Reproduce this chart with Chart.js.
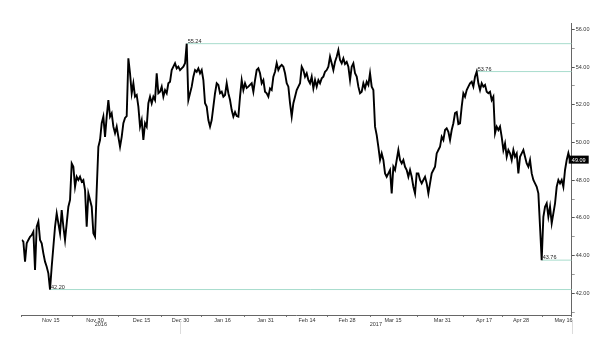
<!DOCTYPE html>
<html><head><meta charset="utf-8">
<script src="https://cdn.jsdelivr.net/npm/chart.js@4/dist/chart.umd.min.js"></script>
<style>html,body{margin:0;padding:0;background:#fff}</style>
</head><body>
<canvas id="c" width="600" height="338"></canvas>
<script>
// Price series (equal time steps, oldest first)
const prices = [
44.83,44.74,43.68,44.65,44.83,45.00,45.09,45.27,43.24,45.53,
45.80,44.83,44.65,44.12,43.68,43.41,43.06,42.20,43.41,44.47,
45.53,46.24,45.71,45.18,46.42,45.53,44.83,45.71,46.59,46.95,
48.89,48.71,47.65,48.18,48.01,48.18,47.92,48.01,47.48,45.53,
47.30,46.95,46.59,45.18,45.00,47.48,49.77,50.13,51.02,51.37,
50.30,51.37,52.25,51.37,51.55,50.84,50.49,50.84,50.30,49.77,
50.30,51.02,51.30,51.40,54.46,53.67,52.61,53.14,52.43,52.52,
51.90,50.84,51.19,50.13,51.02,50.84,52.08,52.43,52.08,52.43,
52.25,53.67,52.61,52.69,52.96,52.43,52.78,52.61,53.14,53.22,
53.84,54.02,54.20,53.93,54.02,53.84,53.93,54.02,54.20,55.24,
52.25,52.61,52.96,53.49,53.84,53.75,53.93,53.67,53.84,53.31,
52.08,51.90,51.19,50.84,51.19,51.90,52.61,53.14,53.05,52.61,
52.69,52.43,52.52,53.14,52.61,52.25,51.72,51.37,51.61,51.40,
51.37,52.43,53.31,52.78,53.14,52.89,52.96,53.05,53.14,52.69,
53.31,53.84,53.93,53.67,53.14,53.31,52.69,52.61,52.43,52.87,
52.78,53.49,53.75,54.20,53.84,54.02,54.11,54.02,53.67,53.14,
52.96,52.08,51.37,52.08,52.43,52.78,52.96,53.14,54.02,53.84,
53.49,53.67,53.31,53.14,53.49,52.87,53.31,52.96,53.31,53.14,
53.40,53.49,53.75,53.84,54.02,54.55,54.20,53.84,54.28,54.55,
54.90,54.37,54.20,54.46,54.16,54.27,54.02,53.31,54.02,54.20,
53.67,53.49,52.96,52.61,52.69,53.14,52.87,53.22,53.05,53.67,
52.96,52.78,50.84,50.39,49.77,49.07,49.42,49.07,48.36,48.18,
48.36,48.54,47.30,48.71,48.54,49.07,49.60,49.07,48.89,49.07,
48.71,48.54,48.18,48.54,48.18,47.65,47.30,48.36,48.36,48.01,
47.83,48.01,48.18,47.83,47.30,47.83,48.36,48.54,48.71,49.42,
49.60,49.77,50.30,50.13,50.66,50.75,50.57,50.13,50.66,51.02,
51.56,51.61,50.98,51.02,51.90,52.61,52.43,52.78,52.96,53.14,
53.22,52.96,53.49,53.76,53.14,52.78,53.14,52.96,53.05,52.69,
52.61,52.69,52.25,52.43,50.49,50.84,50.66,50.84,50.30,49.60,
49.95,49.24,49.60,49.42,49.07,49.60,49.24,49.42,48.36,49.24,
49.42,49.60,49.24,48.89,48.71,49.07,48.36,48.01,47.83,47.65,
47.30,45.53,43.76,46.06,46.59,46.77,46.06,46.59,45.71,46.24,
46.77,47.65,48.01,47.83,48.01,47.65,48.54,49.07,49.44,49.07,
49.09
];
// Marked extremes (high / low levels)
const markerValues = [55.24, 53.76, 43.76, 42.20];
// Date labels and where they sit in the series (step index)
const tickLabels = ['Nov 15','Nov 30','Dec 15','Dec 30','Jan 16','Jan 31','Feb 14','Feb 28','Mar 15','Mar 31','Apr 17','Apr 28','May 16'];
const tickAt = [17.45, 43.98, 71.9, 95.3, 120.5, 146.3, 171.2, 195.2, 222.8, 252.4, 277.4, 299.6, 325.1];
const yearLabels = ['2016', '2017'];
const yearBreaks = [0, 95, 330];
// Price axis
const yMin = 40.85, yMax = 56.32;
const yTickValues = [41,42,43,44,45,46,47,48,49,50,51,52,53,54,55,56];

const FAMILY = '"Liberation Sans", Arial, sans-serif';
const FONT = {family: FAMILY, size: 5.5};
const n = prices.length;

const bounds = [0];
for (let i = 0; i < tickAt.length - 1; i++) bounds.push((tickAt[i] + tickAt[i+1]) / 2);
bounds.push(n - 1);

const refSets = markerValues.map(v => {
  const i = prices.indexOf(v);
  return {data: [{x: i, y: v}, {x: n - 1, y: v}], borderColor: '#a8dccd', borderWidth: 1,
          pointRadius: 0, order: 1};
});

const annot = {
  id: 'annot',
  afterDatasetsDraw(chart) {
    const {ctx, scales: {x, y}} = chart;
    ctx.save();
    ctx.font = '5.5px ' + FAMILY;
    ctx.fillStyle = '#222';
    ctx.textAlign = 'left';
    ctx.textBaseline = 'alphabetic';
    markerValues.forEach(v => {
      const i = prices.indexOf(v);
      ctx.fillText(v.toFixed(2), x.getPixelForValue(i) + 1, y.getPixelForValue(v) - 1);
    });
    // last value box
    const last = prices[n - 1];
    const py = y.getPixelForValue(last);
    ctx.fillStyle = '#000';
    ctx.fillRect(x.right - 3, py - 4, 20, 8);
    ctx.fillStyle = '#fff';
    ctx.textAlign = 'center';
    ctx.textBaseline = 'middle';
    ctx.fillText(last.toFixed(2), x.right + 7, py + 0.5);
    // years row
    ctx.fillStyle = '#333';
    for (let j = 0; j < yearLabels.length; j++) {
      const cx = (x.getPixelForValue(yearBreaks[j]) + x.getPixelForValue(yearBreaks[j+1])) / 2;
      ctx.fillText(yearLabels[j], cx, 324.8);
    }
    ctx.strokeStyle = '#dcdcdc';
    ctx.lineWidth = 1;
    for (let j = 1; j < yearBreaks.length; j++) {
      const px = Math.round(x.getPixelForValue(yearBreaks[j])) + 0.5;
      ctx.beginPath(); ctx.moveTo(px, 321); ctx.lineTo(px, 334); ctx.stroke();
    }
    ctx.restore();
  }
};

new Chart(document.getElementById('c'), {
  type: 'line',
  data: {
    datasets: [
      {data: prices.map((p, i) => ({x: i, y: p})), borderColor: '#000', borderWidth: 1.9,
       pointRadius: 0, tension: 0, order: 0},
      ...refSets
    ]
  },
  options: {
    responsive: false,
    devicePixelRatio: 1,
    animation: false,
    layout: {padding: {left: 21.7, top: 23.3, right: 0, bottom: 0}},
    plugins: {legend: {display: false}, tooltip: {enabled: false}},
    scales: {
      x: {
        type: 'linear', min: 0, max: n - 1, offset: false,
        afterBuildTicks: s => {
          s.ticks = [...bounds, ...tickAt].sort((a, b) => a - b).map(v => ({value: v}));
        },
        afterFit: s => { s.height = 23; },
        ticks: {
          autoSkip: false, maxRotation: 0, minRotation: 0, padding: 0,
          font: FONT, color: '#333',
          callback: v => { const j = tickAt.indexOf(v); return j >= 0 ? tickLabels[j] : ''; }
        },
        grid: {
          display: true, drawOnChartArea: false, drawTicks: true, tickLength: 2,
          tickColor: c => (c.tick && tickAt.includes(c.tick.value)) ? 'rgba(0,0,0,0)' : '#777'
        },
        border: {display: true, color: '#666', width: 1}
      },
      y: {
        type: 'linear', position: 'right', min: yMin, max: yMax,
        afterBuildTicks: s => { s.ticks = yTickValues.map(v => ({value: v})); },
        afterFit: s => { s.width = 28.3; },
        ticks: {
          padding: 1, font: FONT, color: '#333',
          callback: v => (v % 2 === 0 ? v.toFixed(2) : '')
        },
        grid: {
          display: true, drawOnChartArea: false, drawTicks: true, tickLength: 3,
          tickColor: c => (c.tick && c.tick.value % 2 === 0) ? '#555' : '#999'
        },
        border: {display: true, color: '#666', width: 1}
      }
    }
  },
  plugins: [annot]
});
</script>
</body></html>
